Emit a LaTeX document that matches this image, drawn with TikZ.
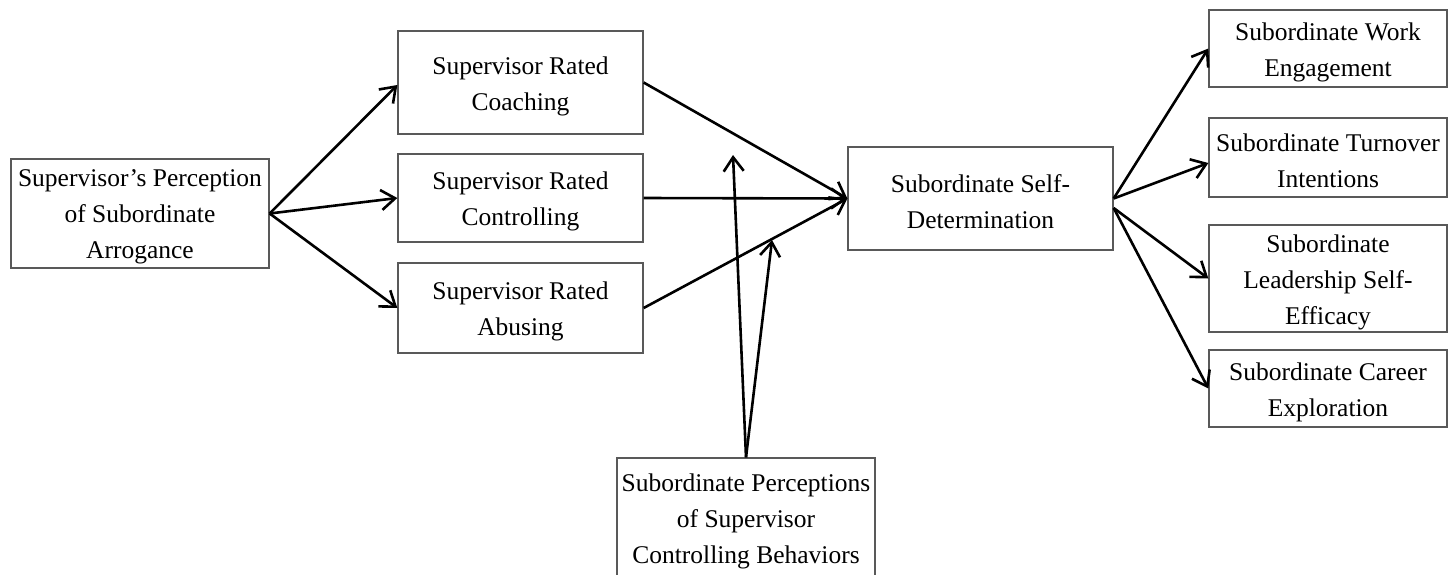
\documentclass[tikz,border=0pt]{standalone}
\usepackage{fontspec}
\setmainfont{Liberation Serif}
\usetikzlibrary{arrows.meta}
\begin{document}
\begin{tikzpicture}[x=1pt,y=-1pt,
  box/.style={draw=black!65, line width=1.3pt, inner sep=0pt},
  lbl/.style={inner sep=0pt, align=center, yshift=-3.5pt,
    font=\fontsize{25.5}{36}\selectfont, text=black},
  arr/.style={line width=2.6pt, -{Straight Barb[length=14pt,width=20pt,line width=2.6pt]}}]
\useasboundingbox (0,0) rectangle (1448,574);
\fill[white] (0,0) rectangle (1448,574);
% boxes
\node[box, minimum width=258pt, minimum height=109pt] (arrog) at (140,213.5) {};
\node[box, minimum width=245pt, minimum height=103pt] (coach) at (520.5,82.5) {};
\node[box, minimum width=245pt, minimum height=88pt] (ctrl) at (520.5,198) {};
\node[box, minimum width=245pt, minimum height=90pt] (abuse) at (520.5,308) {};
\node[box, minimum width=265pt, minimum height=103pt] (sdt) at (980.5,198.5) {};
\node[box, minimum width=238pt, minimum height=77pt] (work) at (1328,48.5) {};
\node[box, minimum width=238pt, minimum height=79pt] (turn) at (1328,157.5) {};
\node[box, minimum width=238pt, minimum height=107pt] (lead) at (1328,278.5) {};
\node[box, minimum width=238pt, minimum height=77pt] (career) at (1328,388.5) {};
\node[box, minimum width=258pt, minimum height=120pt] (perc) at (746,518) {};
% texts
\node[lbl] (arrogT) at (arrog.center) {Supervisor’s Perception\\of Subordinate\\Arrogance};
\node[lbl] (coachT) at (coach.center) {Supervisor Rated\\Coaching};
\node[lbl] (ctrlT) at (ctrl.center) {Supervisor Rated\\Controlling};
\node[lbl] (abuseT) at (abuse.center) {Supervisor Rated\\Abusing};
\node[lbl] (sdtT) at (sdt.center) {Subordinate Self-\\Determination};
\node[lbl] (workT) at (work.center) {Subordinate Work\\Engagement};
\node[lbl] (turnT) at (turn.center) {Subordinate Turnover\\Intentions};
\node[lbl] (leadT) at (lead.center) {Subordinate\\Leadership Self-\\Efficacy};
\node[lbl] (careerT) at (career.center) {Subordinate Career\\Exploration};
\node[lbl] (percT) at (perc.center) {Subordinate Perceptions\\of Supervisor\\Controlling Behaviors};
% moderator targets
\coordinate (m1) at (733,155);
\coordinate (m2) at (772,240);
% connectors
\draw[arr] (arrog.east) -- ([yshift=-2.5pt]coach.west);
\draw[arr] (arrog.east) -- (ctrl.west);
\draw[arr] (arrog.east) -- (abuse.west);
\draw[arr] (coach.east) -- (sdt.west);
\draw[arr] (ctrl.east) -- (sdt.west);
\draw[arr] (abuse.east) -- (sdt.west);
\draw[arr] (perc.north) -- (m1);
\draw[arr] (perc.north) -- (m2);
\draw[arr] (sdt.east) -- (work.west);
\draw[arr] (sdt.east) -- ([yshift=-5.5pt]turn.west);
\draw[arr] ([yshift=-9.5pt]sdt.east) -- (lead.west);
\draw[arr] ([yshift=-9.5pt]sdt.east) -- (career.west);
\end{tikzpicture}
\end{document}
